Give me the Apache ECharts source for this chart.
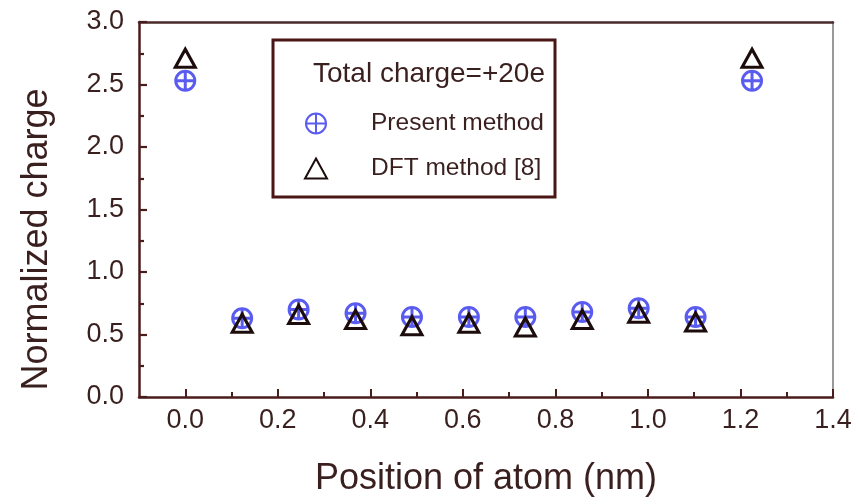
<!DOCTYPE html>
<html>
<head>
<meta charset="utf-8">
<script src="https://cdn.jsdelivr.net/npm/echarts@6/dist/echarts.min.js"></script>
<style>html,body{margin:0;padding:0;background:#fff}#c{width:859px;height:504px}</style>
</head>
<body>
<div id="c"></div>
<script>
// ---- data ----
const positions = [0.0, 0.123, 0.245, 0.368, 0.49, 0.613, 0.735, 0.858, 0.98, 1.103, 1.225];
const presentMethod = [2.53, 0.63, 0.70, 0.67, 0.64, 0.64, 0.64, 0.68, 0.71, 0.64, 2.53];
const dftMethod = [2.71, 0.59, 0.66, 0.62, 0.57, 0.59, 0.56, 0.62, 0.67, 0.60, 2.71];
const xMajorTicks = [0.0, 0.2, 0.4, 0.6, 0.8, 1.0, 1.2, 1.4];
const xMinorTicks = [0.1, 0.3, 0.5, 0.7, 0.9, 1.1, 1.3];
const seriesNames = ['Present method', 'DFT method [8]'];
const boxTitle = 'Total charge=+20e';
const xTitle = 'Position of atom (nm)';
const yTitle = 'Normalized charge';

const FONT = '"Liberation Sans", Arial, sans-serif';
const TXT = '#3a1f1f';
const AX = '#4a1c1c';

const circlePlus = 'path://M0,-10A10,10 0 1,1 0,10A10,10 0 1,1 0,-10Z M-10,0L10,0 M0,-10L0,10';

const chart = echarts.init(document.getElementById('c'));
chart.setOption({
  animation: false,
  backgroundColor: '#fff',
  grid: {left: 139, right: 26, top: 22, bottom: 107, show: false},
  xAxis: [
    {
      type: 'value', min: -0.1, max: 1.4, interval: 0.1, position: 'bottom',
      name: xTitle, nameLocation: 'middle', nameGap: 64,
      nameTextStyle: {fontFamily: FONT, fontSize: 36, color: TXT},
      axisLine: {show: true, onZero: false, lineStyle: {color: AX, width: 2.5}},
      axisTick: {show: true, inside: true, length: 8, customValues: xMajorTicks, lineStyle: {color: AX, width: 2}},
      axisLabel: {customValues: xMajorTicks, margin: 10, fontFamily: FONT, fontSize: 27, color: TXT,
        formatter: v => v.toFixed(1)},
      splitLine: {show: false}
    },
    {
      type: 'value', min: -0.1, max: 1.4, interval: 0.1, position: 'bottom',
      axisLine: {show: false, onZero: false},
      axisTick: {show: true, inside: true, length: 5, customValues: xMinorTicks, lineStyle: {color: AX, width: 2}},
      axisLabel: {show: false},
      splitLine: {show: false}
    },
    {
      type: 'value', min: -0.1, max: 1.4, position: 'top',
      axisLine: {show: true, onZero: false, lineStyle: {color: '#4a2a2a', width: 2.5}},
      axisTick: {show: false}, axisLabel: {show: false}, splitLine: {show: false}
    }
  ],
  yAxis: [
    {
      type: 'value', min: 0, max: 3, interval: 0.5, position: 'left',
      name: yTitle, nameLocation: 'middle', nameGap: 84, nameRotate: 90,
      nameTextStyle: {fontFamily: FONT, fontSize: 36, color: TXT, padding: [0, 60, 0, 0]},
      axisLine: {show: true, onZero: false, lineStyle: {color: AX, width: 2.5}},
      axisTick: {show: true, inside: true, length: 8, lineStyle: {color: AX, width: 2.2}},
      minorTick: {show: true, splitNumber: 2, length: 5, lineStyle: {color: AX, width: 2.2}},
      axisLabel: {margin: 15, fontFamily: FONT, fontSize: 27, color: TXT, formatter: v => v.toFixed(1)},
      splitLine: {show: false}
    },
    {
      type: 'value', min: 0, max: 3, position: 'right',
      axisLine: {show: true, onZero: false, lineStyle: {color: '#777', width: 1.5}},
      axisTick: {show: false}, axisLabel: {show: false}, splitLine: {show: false}
    }
  ],
  legend: {
    orient: 'vertical', left: 304, top: 110, padding: 0,
    itemWidth: 22, itemHeight: 20, itemGap: 18,
    textStyle: {fontFamily: FONT, fontSize: 24.5, color: TXT, lineHeight: 27, padding: [0, 0, 0, 39]},
    data: seriesNames
  },
  graphic: [
    {type: 'rect', shape: {x: 273, y: 40, width: 282, height: 157},
     style: {fill: 'none', stroke: '#4a1515', lineWidth: 3}, z: 10},
    {type: 'text', x: 313, y: 74,
     style: {text: boxTitle, font: '28px "Liberation Sans", Arial, sans-serif', fill: TXT, verticalAlign: 'middle', align: 'left'}, z: 10}
  ],
  series: [
    {
      name: seriesNames[0], type: 'scatter', xAxisIndex: 0, yAxisIndex: 0,
      symbol: circlePlus, symbolSize: 19,
      itemStyle: {color: 'rgba(255,255,255,0)', borderColor: '#5a5cf0', borderWidth: 3, opacity: 1},
      data: positions.map((x, i) => [x, presentMethod[i]]),
      z: 3
    },
    {
      name: seriesNames[1], type: 'scatter', xAxisIndex: 0, yAxisIndex: 0,
      symbol: 'triangle', symbolSize: [20, 18],
      itemStyle: {color: 'rgba(255,255,255,0)', borderColor: '#1c0c0c', borderWidth: 3, opacity: 1},
      data: positions.map((x, i) => [x, dftMethod[i]]),
      z: 4
    }
  ]
});
</script>
</body>
</html>
